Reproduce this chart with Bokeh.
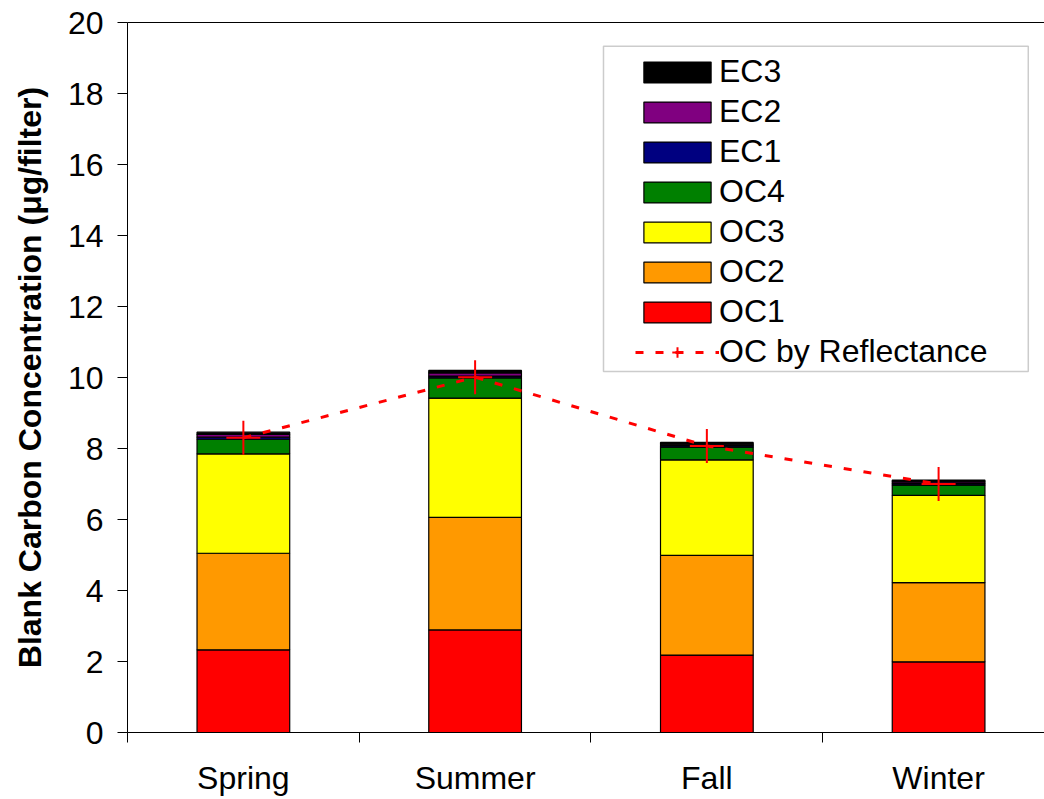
from bokeh.plotting import figure
from bokeh.models import (ColumnDataSource, Range1d, FixedTicker, LinearAxis,
                          Legend, LegendItem, BoxAnnotation)
from bokeh.embed import file_html
from bokeh.resources import INLINE

# ---- data ----
seasons = ["Spring", "Summer", "Fall", "Winter"]
OC1 = [2.33, 2.89, 2.18, 1.99]
OC2 = [2.72, 3.17, 2.81, 2.23]
OC3 = [2.80, 3.36, 2.69, 2.46]
OC4 = [0.41, 0.57, 0.36, 0.29]
EC1 = [0.06, 0.05, 0.04, 0.04]
EC2 = [0.08, 0.09, 0.04, 0.05]
EC3 = [0.06, 0.07, 0.05, 0.05]
oc_reflectance = [8.30, 10.01, 8.07, 7.00]
y_ticks = [0, 2, 4, 6, 8, 10, 12, 14, 16, 18, 20]

components = ["OC1", "OC2", "OC3", "OC4", "EC1", "EC2", "EC3"]
colors = ["#FF0000", "#FF9900", "#FFFF00", "#008000", "#000080", "#800080", "#000000"]

centers = [i + 0.5 for i in range(len(seasons))]
boundaries = [float(i) for i in range(len(seasons) + 1)]

src = ColumnDataSource(dict(x=centers, OC1=OC1, OC2=OC2, OC3=OC3, OC4=OC4,
                            EC1=EC1, EC2=EC2, EC3=EC3, refl=oc_reflectance))

FONT = "Liberation Sans"

p = figure(width=1044, height=798, output_backend="svg", toolbar_location=None,
           x_range=Range1d(0, 3.957), y_range=Range1d(0, 20),
           min_border_left=127, min_border_right=0, min_border_top=22,
           min_border_bottom=64)
p.outline_line_color = None
p.xgrid.visible = False
p.ygrid.visible = False
p.background_fill_color = "white"
p.border_fill_color = "white"

bars = p.vbar_stack(components, x="x", width=0.4, source=src, color=colors,
                    line_color="black", line_width=1.2)

line = p.line("x", "refl", source=src, line_color="#FF0000", line_width=3,
              line_dash="8 12")
pts = p.scatter("x", "refl", source=src, marker="cross", size=34,
                line_color="#FF0000", line_width=2)

# y axis
ya = p.yaxis[0]
ya.ticker = FixedTicker(ticks=y_ticks)
ya.axis_label = "Blank Carbon Concentration (μg/filter)"
ya.axis_label_text_font = FONT
ya.axis_label_text_font_style = "bold"
ya.axis_label_text_font_size = "32px"
ya.axis_label_text_color = "black"
ya.axis_label_standoff = 17
ya.major_label_text_font = FONT
ya.major_label_text_font_size = "32px"
ya.major_label_text_color = "black"
ya.major_label_standoff = 14
ya.major_tick_out = 10
ya.major_tick_in = 0
ya.minor_tick_line_color = None
ya.axis_line_color = "black"
ya.major_tick_line_color = "black"

# x axis
xa = p.xaxis[0]
xa.ticker = FixedTicker(ticks=centers, minor_ticks=boundaries)
xa.major_label_overrides = {c: s for c, s in zip(centers, seasons)}
xa.major_label_text_font = FONT
xa.major_label_text_font_size = "32px"
xa.major_label_text_color = "black"
xa.major_label_standoff = 17
xa.major_tick_line_color = None
xa.minor_tick_out = 10
xa.minor_tick_in = 0
xa.minor_tick_line_color = "black"
xa.axis_line_color = "black"

# top border line
top = LinearAxis(major_tick_line_color=None, minor_tick_line_color=None,
                 major_label_text_font_size="0px", axis_line_color="black")
top.ticker = FixedTicker(ticks=[])
p.add_layout(top, "above")

# legend box
p.add_layout(BoxAnnotation(left=2.054, right=3.887, bottom=10.17, top=19.33,
                           fill_alpha=0, line_color="#555555", line_width=1.5))

items = [LegendItem(label=c, renderers=[r]) for c, r in zip(components, bars)][::-1]
items.append(LegendItem(label="OC by Reflectance", renderers=[line, pts]))
legend = Legend(items=items, location=(496, 350), padding=12,
                glyph_width=84, glyph_height=26, spacing=3, label_standoff=0,
                label_text_font=FONT, label_text_font_size="32px",
                label_text_color="black",
                border_line_alpha=0, background_fill_alpha=0)
p.add_layout(legend, "center")

open("out.html", "w").write(file_html(p, INLINE))
